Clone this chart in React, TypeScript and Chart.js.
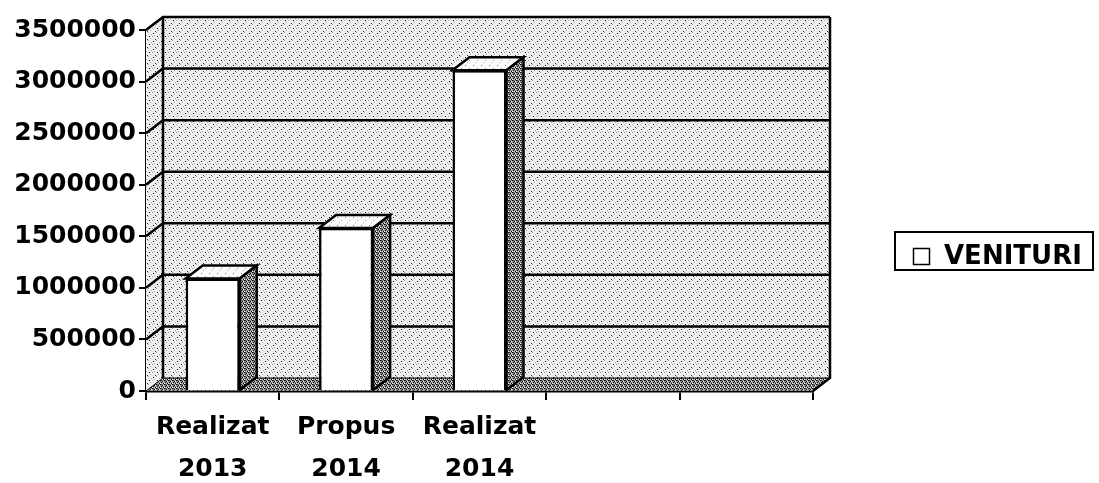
import React, { useEffect, useRef } from 'react';
import { Chart, registerables } from 'chart.js';

Chart.register(...registerables);

// ---- data ----
const categories: (string | string[])[] = [['Realizat', '2013'], ['Propus', '2014'], ['Realizat', '2014'], '', ''];
const venituri: (number | null)[] = [1090000, 1580000, 3110000, null, null];
const seriesName = 'VENITURI';
const yMin = 0;
const yMax = 3500000;
const yStep = 500000;

// ---- 3D look ----
const DX = 17;
const DY = 13;
const FONT = 'DejaVu Sans';

function makePattern(base: string, dots: [number, number, string][], size: number): CanvasPattern | string {
  const c = document.createElement('canvas');
  c.width = size;
  c.height = size;
  const g = c.getContext('2d');
  if (!g) return base;
  g.fillStyle = base;
  g.fillRect(0, 0, size, size);
  dots.forEach(([x, y, col]) => {
    g.fillStyle = col;
    g.fillRect(x, y, 1, 1);
  });
  const p = g.createPattern(c, 'repeat');
  return p || base;
}

export default function App() {
  const ref = useRef<HTMLCanvasElement | null>(null);

  useEffect(() => {
    document.body.style.margin = '0';
    const canvas = ref.current;
    if (!canvas) return;

    const light = makePattern('#f0f0f0', [
      [1, 1, '#000'], [5, 4, '#111'], [3, 7, '#333'],
      [4, 0, '#9a9a9a'], [0, 4, '#a5a5a5'], [6, 6, '#999'], [7, 2, '#aaa'], [2, 3, '#b5b5b5'],
    ], 8);
    const topLight = makePattern('#fbfbfb', [[1, 1, '#777'], [5, 4, '#999'], [3, 6, '#aaa']], 8);
    const dark = makePattern('#8e8e8e', [
      [0, 0, '#000'], [2, 1, '#000'], [1, 2, '#222'], [3, 3, '#000'], [0, 3, '#fff'], [2, 3, '#ccc'], [1, 0, '#444'], [3, 1, '#eee'],
    ], 4);

    const threeD = {
      id: 'threeD',
      beforeDatasetsDraw(chart: any) {
        const { ctx, chartArea } = chart;
        const { left, right, top, bottom } = chartArea;
        const y = chart.scales.y;
        ctx.save();
        // left side wall
        ctx.fillStyle = light;
        ctx.beginPath();
        ctx.moveTo(left, top);
        ctx.lineTo(left + DX, top - DY);
        ctx.lineTo(left + DX, bottom - DY);
        ctx.lineTo(left, bottom);
        ctx.closePath();
        ctx.fill();
        // back wall
        ctx.fillRect(left + DX, top - DY, right - left, bottom - top);
        // floor
        ctx.fillStyle = dark;
        ctx.beginPath();
        ctx.moveTo(left, bottom);
        ctx.lineTo(left + DX, bottom - DY);
        ctx.lineTo(right + DX, bottom - DY);
        ctx.lineTo(right, bottom);
        ctx.closePath();
        ctx.fill();
        // grid lines on walls
        ctx.strokeStyle = '#000';
        y.ticks.forEach((t: any) => {
          const py = y.getPixelForValue(t.value);
          ctx.lineWidth = t.value === 0 ? 1 : 2.5;
          ctx.beginPath();
          ctx.moveTo(left, py);
          ctx.lineTo(left + DX, py - DY);
          ctx.lineTo(right + DX, py - DY);
          ctx.stroke();
        });
        // wall edges
        ctx.lineWidth = 2.5;
        ctx.beginPath();
        ctx.moveTo(left + DX, top - DY);
        ctx.lineTo(left + DX, bottom - DY);
        ctx.stroke();
        ctx.beginPath();
        ctx.moveTo(right + DX, top - DY);
        ctx.lineTo(right + DX, bottom - DY);
        ctx.lineTo(right, bottom);
        ctx.stroke();
        ctx.restore();
      },
      afterDatasetsDraw(chart: any) {
        const { ctx } = chart;
        const meta = chart.getDatasetMeta(0);
        ctx.save();
        ctx.strokeStyle = '#000';
        ctx.lineWidth = 2.5;
        ctx.lineJoin = 'miter';
        meta.data.forEach((bar: any, i: number) => {
          if (venituri[i] == null) return;
          const { x, y, base, width } = bar.getProps(['x', 'y', 'base', 'width'], true);
          const l = x - width / 2;
          const r = x + width / 2;
          // top face
          ctx.fillStyle = topLight;
          ctx.beginPath();
          ctx.moveTo(l, y);
          ctx.lineTo(l + DX, y - DY);
          ctx.lineTo(r + DX, y - DY);
          ctx.lineTo(r, y);
          ctx.closePath();
          ctx.fill();
          ctx.stroke();
          // side face
          ctx.fillStyle = dark;
          ctx.beginPath();
          ctx.moveTo(r, y);
          ctx.lineTo(r + DX, y - DY);
          ctx.lineTo(r + DX, base - DY);
          ctx.lineTo(r, base);
          ctx.closePath();
          ctx.fill();
          ctx.stroke();
        });
        ctx.restore();
      },
      afterDraw(chart: any) {
        const { ctx } = chart;
        const label = chart.data.datasets[0].label;
        ctx.save();
        ctx.fillStyle = '#fff';
        ctx.fillRect(895, 232, 198, 38);
        ctx.strokeStyle = '#000';
        ctx.lineWidth = 2;
        ctx.strokeRect(895, 232, 198, 38);
        ctx.lineWidth = 1.5;
        ctx.strokeRect(913.5, 248.5, 16, 16);
        ctx.fillStyle = '#000';
        ctx.font = `bold 26px "${FONT}"`;
        ctx.textBaseline = 'middle';
        ctx.textAlign = 'left';
        ctx.fillText(label, 944, 257);
        ctx.restore();
      },
    };

    const chart = new Chart(canvas, {
      type: 'bar',
      data: {
        labels: categories,
        datasets: [
          {
            label: seriesName,
            data: venituri,
            backgroundColor: '#ffffff',
            borderColor: '#000000',
            borderWidth: 2.5,
            barPercentage: 0.405,
            categoryPercentage: 1,
          },
        ],
      },
      options: {
        animation: false,
        responsive: false,
        devicePixelRatio: 1,
        layout: { padding: { top: 30, right: 286, left: 0, bottom: 0 } },
        plugins: {
          legend: { display: false },
          tooltip: { enabled: false },
        },
        scales: {
          x: {
            offset: true,
            afterFit: (s: any) => { s.height = 92; },
            border: { display: true, color: '#000', width: 2.5 },
            grid: { offset: true, drawOnChartArea: false, drawTicks: true, tickLength: 9, color: '#000', lineWidth: 2 },
            ticks: {
              color: '#000',
              font: { family: FONT, size: 25, weight: 'bold', lineHeight: 1.7 },
              padding: 6,
              maxRotation: 0,
              autoSkip: false,
            },
          },
          y: {
            min: yMin,
            max: yMax,
            afterFit: (s: any) => { s.width = 146; },
            border: { display: true, color: '#000', width: 2.5 },
            grid: { drawOnChartArea: false, drawTicks: true, tickLength: 7, color: '#000', lineWidth: 2 },
            ticks: {
              stepSize: yStep,
              color: '#000',
              padding: 3,
              font: { family: FONT, size: 25, weight: 'bold' },
              callback: (v: any) => String(v),
            },
          },
        },
      },
      plugins: [threeD],
    } as any);

    return () => chart.destroy();
  }, []);

  return (
    <div style={{ width: 1099, height: 483, background: '#fff' }}>
      <canvas ref={ref} width={1099} height={483} style={{ display: 'block' }} />
    </div>
  );
}
